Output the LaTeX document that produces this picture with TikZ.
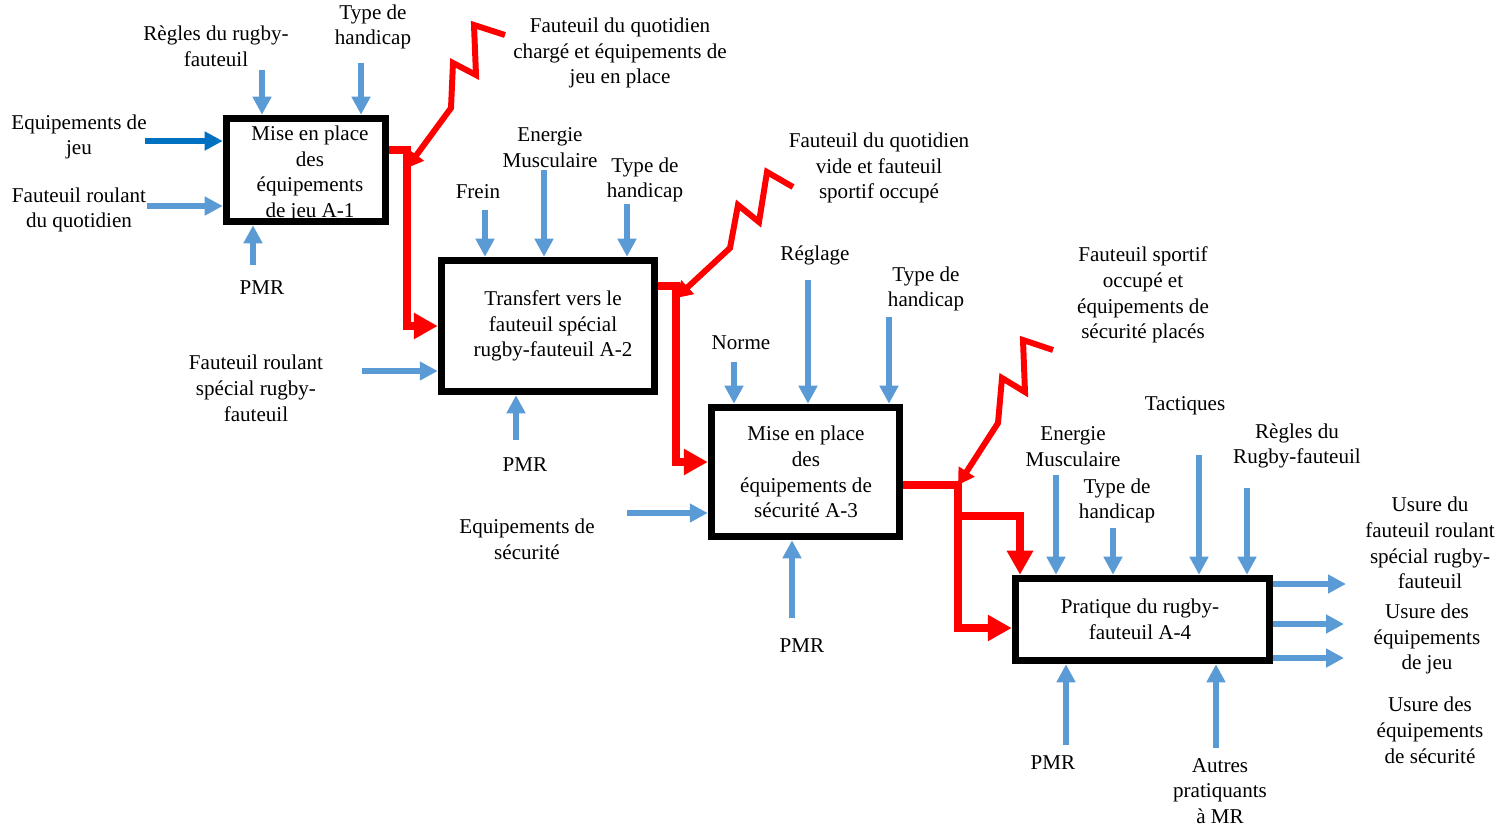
\documentclass[tikz,border=0pt]{standalone}
\usepackage{fontspec}
\setmainfont{Liberation Serif}
\usetikzlibrary{arrows.meta}
\definecolor{flowblue}{HTML}{5B9BD5}
\definecolor{darkblue}{HTML}{0070C0}
\begin{document}
\begin{tikzpicture}[x=0.02cm, y=-0.02cm, line join=round, font=\fontsize{12}{14.7}\selectfont]
	\tikzset{box style/.style={draw, line width=4.3pt, line join=miter, inner sep=0pt},
		text style/.style={align=center, inner sep=0pt},
		in style/.style={draw=flowblue, line width=3.2pt, -{Triangle[length=0.36cm,width=0.36cm]}},
		red style/.style={draw=red, line width=4.2pt, line join=miter, -{Triangle[length=0.48cm,width=0.5cm]}},
		zig style/.style={draw=red, line width=3.4pt, line join=miter, -{Triangle[length=0.32cm,width=0.36cm]}}}
	\useasboundingbox (0,0) rectangle (1512,829);
	% texts inside the boxes
	\node[text style] (t1) at (310,174) {Mise en place\\des\\équipements\\de jeu A-1};
	\node[text style] (t2) at (553,326) {Transfert vers le\\fauteuil spécial\\rugby-fauteuil A-2};
	\node[text style] (t3) at (806,472) {Mise en place\\des\\équipements de\\sécurité A-3};
	\node[text style] (t4) at (1140,619) {Pratique du rugby-\\fauteuil A-4};
	% boxes
	\node[box style, minimum width=3.18cm, minimum height=2.06cm] (a1) at (306,170) {};
	\node[box style, minimum width=4.26cm, minimum height=2.62cm] (a2) at (548,326) {};
	\node[box style, minimum width=3.76cm, minimum height=2.58cm] (a3) at (805.5,472) {};
	\node[box style, minimum width=5.08cm, minimum height=1.64cm] (a4) at (1142.5,619.5) {};
	% labels
	\node[text style] (l11) at (216,46) {Règles du rugby-\\fauteuil};
	\node[text style] (l12) at (373,27) {Type de\\handicap};
	\node[text style] (l13) at (79,137) {Equipements de\\jeu};
	\node[text style] (l14) at (79,210) {Fauteuil roulant\\du quotidien};
	\node[text style] (l15) at (262,288) {PMR};
	\node[text style] (l21) at (478,192) {Frein};
	\node[text style] (l22) at (550,148) {Energie\\Musculaire};
	\node[text style] (l23) at (645,180) {Type de\\handicap};
	\node[text style] (l24) at (256,388) {Fauteuil roulant\\spécial rugby-\\fauteuil};
	\node[text style] (l25) at (525,465) {PMR};
	\node[text style] (l31) at (741,343) {Norme};
	\node[text style] (l32) at (815,255) {Réglage};
	\node[text style] (l33) at (926,289) {Type de\\handicap};
	\node[text style] (l34) at (527,539) {Equipements de\\sécurité};
	\node[text style] (l35) at (802,646) {PMR};
	\node[text style] (l41) at (1073,447) {Energie\\Musculaire};
	\node[text style] (l42) at (1117,501) {Type de\\handicap};
	\node[text style] (l43) at (1185,406) {Tactiques};
	\node[text style] (l44) at (1297,446) {Règles du\\Rugby-fauteuil};
	\node[text style] (l45) at (1053,763) {PMR};
	\node[text style] (l46) at (1220,791) {Autres\\pratiquants\\à MR};
	\node[text style] (u1) at (1430,543) {Usure du\\fauteuil roulant\\spécial rugby-\\fauteuil};
	\node[text style] (u2) at (1427,639) {Usure des\\équipements\\de jeu};
	\node[text style] (u3) at (1430,730) {Usure des\\équipements\\de sécurité};
	\node[text style] (s1) at (620,53) {Fauteuil du quotidien\\chargé et équipements de\\jeu en place};
	\node[text style] (s2) at (879,168) {Fauteuil du quotidien\\vide et fauteuil\\sportif occupé};
	\node[text style] (s3) at (1143,295) {Fauteuil sportif\\occupé et\\équipements de\\sécurité placés};
	% blue inputs
	\draw[in style] (262,70) coordinate (c11) -- (c11 |- a1.north);
	\draw[in style] (361,63) coordinate (c12) -- (c12 |- a1.north);
	\draw[in style, draw=darkblue] (145,141) coordinate (c13) -- (c13 -| a1.west);
	\draw[in style] (147,206) coordinate (c14) -- (c14 -| a1.west);
	\draw[in style] (253,265) coordinate (c15) -- (c15 |- a1.south);
	\draw[in style] (485,210) coordinate (c21) -- (c21 |- a2.north);
	\draw[in style] (544,170) coordinate (c22) -- (c22 |- a2.north);
	\draw[in style] (627,204) coordinate (c23) -- (c23 |- a2.north);
	\draw[in style] (362,371) coordinate (c24) -- (c24 -| a2.west);
	\draw[in style] (516,440) coordinate (c25) -- (c25 |- a2.south);
	\draw[in style] (734,362) coordinate (c31) -- (c31 |- a3.north);
	\draw[in style] (808,280) coordinate (c32) -- (c32 |- a3.north);
	\draw[in style] (889,317) coordinate (c33) -- (c33 |- a3.north);
	\draw[in style] (627,513) coordinate (c34) -- (c34 -| a3.west);
	\draw[in style] (792,618) coordinate (c35) -- (c35 |- a3.south);
	\draw[in style] (1056,475) coordinate (c41) -- (c41 |- a4.north);
	\draw[in style] (1113,528) coordinate (c42) -- (c42 |- a4.north);
	\draw[in style] (1199,455) coordinate (c43) -- (c43 |- a4.north);
	\draw[in style] (1247,488) coordinate (c44) -- (c44 |- a4.north);
	\draw[in style] (1066,745) coordinate (c45) -- (c45 |- a4.south);
	\draw[in style] (1216,748) coordinate (c46) -- (c46 |- a4.south);
	% blue outputs
	\draw[in style] (1346,584) coordinate (o1) (o1 -| a4.east) -- (o1);
	\draw[in style] (1344,624) coordinate (o2) (o2 -| a4.east) -- (o2);
	\draw[in style] (1344,658) coordinate (o3) (o3 -| a4.east) -- (o3);
	% red flows
	\coordinate (f1) at (407,150);
	\coordinate (f2) at (676,286);
	\coordinate (f3) at (676,462);
	\coordinate (f4) at (958,485);
	\coordinate (f5) at (958,628);
	\coordinate (f6) at (1020,516);
	\draw[red style] (a1.east |- f1) -- (f1) |- (a2.west);
	\draw[red style] (a2.east |- f2) -- (f2) -- (f3) -- (f3 -| a3.west);
	\draw[red style] (a3.east |- f4) -- (f4) -- (f5) -- (f5 -| a4.west);
	\draw[red style] (f6 -| f4) -- (f6) -- (f6 |- a4.north);
	% zigzags
	\draw[zig style] (505,35) -- (474,25) -- (476,75) -- (453,63) -- (451,108) -- (f1 |- 0,168);
	\draw[zig style] (793,187) -- (767,172) -- (759,222) -- (738,205) -- (730,248) -- (f2 |- 0,298);
	\draw[zig style] (1053,350) -- (1023,340) -- (1025,392) -- (1002,378) -- (998,423) -- (f4);
\end{tikzpicture}
\end{document}
